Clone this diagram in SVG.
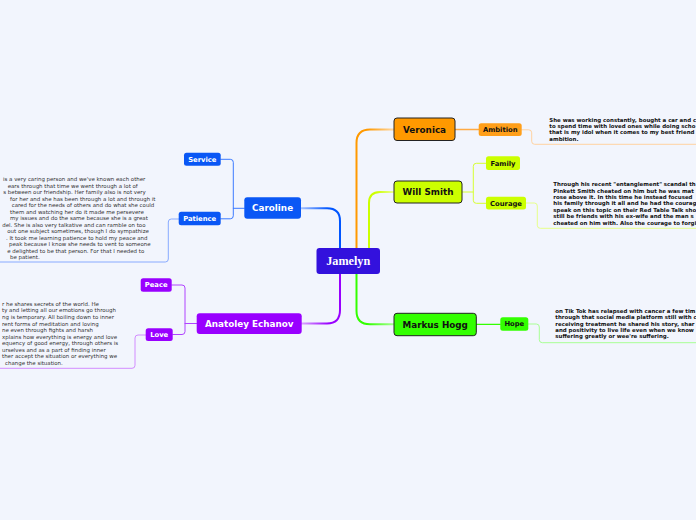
<svg xmlns="http://www.w3.org/2000/svg" width="696" height="520" viewBox="0 0 696 520">
<style>
.lbl{font-family:"DejaVu Sans",Verdana,sans-serif;font-weight:bold;text-anchor:middle}
.main{font-size:8.8px}
.sub{font-size:6.8px}
.note{font-family:"DejaVu Sans",Verdana,sans-serif;font-size:5.45px}
.nl{fill:#333}
.nr{fill:#111;font-weight:bold}
.c{fill:none;stroke-linecap:round;stroke-linejoin:round}
</style>
<defs>
<linearGradient id="gOr" x1="0" y1="0" x2="1" y2="0"><stop offset="0.3" stop-color="#ff9900"/><stop offset="1" stop-color="#ffd9a6"/></linearGradient>
<linearGradient id="gYg" x1="0" y1="0" x2="1" y2="0"><stop offset="0.3" stop-color="#ccff00"/><stop offset="1" stop-color="#ecff99"/></linearGradient>
<linearGradient id="gGr" x1="0" y1="0" x2="1" y2="0"><stop offset="0.3" stop-color="#33ff00"/><stop offset="1" stop-color="#a8ff94"/></linearGradient>
<linearGradient id="gBl" x1="1" y1="0" x2="0" y2="0"><stop offset="0.3" stop-color="#0055ff"/><stop offset="1" stop-color="#a6c2ff"/></linearGradient>
<linearGradient id="gPu" x1="1" y1="0" x2="0" y2="0"><stop offset="0.3" stop-color="#9900ff"/><stop offset="1" stop-color="#dba6ff"/></linearGradient>
</defs>
<rect width="696" height="520" fill="#f2f5fd"/>
<g id="connectors">
<path class="c" stroke="url(#gOr)" stroke-width="2" d="M356.5,248 V143 Q356.5,129.5 370,129.5 H394"/>
<path class="c" stroke="url(#gYg)" stroke-width="2" d="M369,248 V203 Q369,192 380,192 H394"/>
<path class="c" stroke="url(#gGr)" stroke-width="2" d="M356.5,274 V311 Q356.5,324.3 370,324.3 H394"/>
<path class="c" stroke="url(#gBl)" stroke-width="2" d="M340,248 V221 Q340,208.3 327,208.3 H301"/>
<path class="c" stroke="url(#gPu)" stroke-width="2" d="M340,274 V310 Q340,323.5 327,323.5 H301.7"/>
<path class="c" stroke="#ffaa44" stroke-width="1.3" d="M455,129.5 H478.7"/>
<path class="c" stroke="#ffd2a0" stroke-width="1" d="M521.7,129.8 H528.7 Q531.7,129.8 531.7,132.8 V141.3 Q531.7,144.3 534.7,144.3 H696"/>
<path class="c" stroke="#d6ff33" stroke-width="1" d="M462,192 H473.3 M486,163.3 H476.3 Q473.3,163.3 473.3,166.3 V200.3 Q473.3,203.3 476.3,203.3 H486"/>
<path class="c" stroke="#e6ff8a" stroke-width="1" d="M526,203 H534.3 Q537.3,203 537.3,206 V225.3 Q537.3,228.3 540.3,228.3 H696"/>
<path class="c" stroke="#33ff00" stroke-width="1.3" d="M476.3,324.3 H500.3"/>
<path class="c" stroke="#a8ff94" stroke-width="1" d="M528.3,324 H536.3 Q539.3,324 539.3,327 V339.7 Q539.3,342.7 542.3,342.7 H696"/>
<path class="c" stroke="#3d7bff" stroke-width="1" d="M244.3,208.3 H233.3 M220.7,159.3 H230.3 Q233.3,159.3 233.3,162.3 V215.8 Q233.3,218.8 230.3,218.8 H220.7"/>
<path class="c" stroke="#88aaff" stroke-width="1" d="M178.7,219 H171.3 Q168.3,219 168.3,222 V259 Q168.3,262 165.3,262 H0"/>
<path class="c" stroke="#b044ff" stroke-width="1" d="M196.7,323.5 H185 M171.7,285 H182 Q185,285 185,288 V331.5 Q185,334.5 182,334.5 H172.7"/>
<path class="c" stroke="#d28cff" stroke-width="1" d="M145.7,335 H138 Q135,335 135,338 V365.3 Q135,368.3 132,368.3 H0"/>
</g>
<g id="jamelyn"><rect x="316.5" y="248" width="63.5" height="26" rx="3" fill="#3311dd"/><text x="348.2" y="265.2" font-family="'Liberation Serif','Times New Roman',serif" font-weight="bold" font-size="12.2" fill="#fff" text-anchor="middle">Jamelyn</text></g>
<g id="veronica"><rect x="394" y="118" width="61" height="22.5" rx="3" fill="#ff9900" stroke="#222" stroke-width="1"/><text class="lbl main" x="424.5" y="132.5" fill="#111">Veronica</text></g>
<g id="ambition"><rect x="478.7" y="123.3" width="43" height="12.7" rx="2.5" fill="#ff9f1a"/><text class="lbl sub" x="500.2" y="132.1" fill="#111">Ambition</text></g>
<g id="will-smith"><rect x="394" y="181" width="68" height="22" rx="3" fill="#ccff00" stroke="#222" stroke-width="1"/><text class="lbl main" x="428" y="195.2" fill="#111">Will Smith</text></g>
<g id="family"><rect x="486" y="156.3" width="34" height="13.6" rx="2.5" fill="#ccff00"/><text class="lbl sub" x="503" y="165.5" fill="#111">Family</text></g>
<g id="courage"><rect x="486" y="196.7" width="40" height="12.7" rx="2.5" fill="#ccff00"/><text class="lbl sub" x="506" y="205.5" fill="#111">Courage</text></g>
<g id="markus-hogg"><rect x="394" y="313.3" width="82.3" height="22.4" rx="3" fill="#33ff00" stroke="#222" stroke-width="1"/><text class="lbl main" x="435.2" y="327.7" fill="#111">Markus Hogg</text></g>
<g id="hope"><rect x="500.3" y="317.3" width="28" height="13.4" rx="2.5" fill="#33ff00"/><text class="lbl sub" x="514.3" y="326.4" fill="#111">Hope</text></g>
<g id="caroline"><rect x="244.3" y="197.3" width="56.7" height="21.4" rx="3" fill="#0a57f5"/><text class="lbl main" x="272.6" y="211.2" fill="#fff">Caroline</text></g>
<g id="service"><rect x="184" y="152.7" width="36.7" height="13" rx="2.5" fill="#0a57f5"/><text class="lbl sub" x="202.3" y="161.6" fill="#fff">Service</text></g>
<g id="patience"><rect x="178.7" y="211.8" width="42" height="13.5" rx="2.5" fill="#0a57f5"/><text class="lbl sub" x="199.7" y="221" fill="#fff">Patience</text></g>
<g id="anatoley"><rect x="196.7" y="313.3" width="105" height="20.7" rx="3" fill="#9900ff"/><text class="lbl main" x="249.2" y="326.8" fill="#fff">Anatoley Echanov</text></g>
<g id="peace"><rect x="140.7" y="278.3" width="31" height="13.4" rx="2.5" fill="#9900ff"/><text class="lbl sub" x="156.2" y="287.4" fill="#fff">Peace</text></g>
<g id="love"><rect x="145.7" y="328.3" width="27" height="12.8" rx="2.5" fill="#9900ff"/><text class="lbl sub" x="159.2" y="337.2" fill="#fff">Love</text></g>
<g id="caroline-note" class="note nl">
<text x="3" y="181.1">is a very caring person and we've known each other</text>
<text x="7.7" y="187.6">ears through that time we went through a lot of</text>
<text x="3.3" y="194.1">s between our friendship. Her family also is not very</text>
<text x="10" y="200.6">for her and she has been through a lot and through it</text>
<text x="11.7" y="207.1">cared for the needs of others and do what she could</text>
<text x="10" y="213.6">them and watching her do it made me persevere</text>
<text x="10" y="220.1">my issues and do the same because she is a great</text>
<text x="2.3" y="226.6">del. She is also very talkative and can ramble on too</text>
<text x="7.3" y="233.1">out one subject sometimes, though I do sympathize</text>
<text x="6" y="239.6">. It took me learning patience to hold my peace and</text>
<text x="9" y="246.1">peak because I know she needs to vent to someone</text>
<text x="7.3" y="252.6">e delighted to be that person. For that I needed to</text>
<text x="10" y="259.1">be patient.</text>
</g>
<g id="anatoley-note" class="note nl">
<text x="2" y="305.9">r he shares secrets of the world. He</text>
<text x="2" y="312.45">ty and letting all our emotions go through</text>
<text x="2" y="319">ng is temporary. All boiling down to inner</text>
<text x="2" y="325.55">rent forms of meditation and loving</text>
<text x="2" y="332.1">ne even through fights and harsh</text>
<text x="2" y="338.65">xplains how everything is energy and love</text>
<text x="2" y="345.2">equency of good energy, through others is</text>
<text x="2" y="351.75">urselves and as a part of finding inner</text>
<text x="2" y="358.3">ther accept the situation or everything we</text>
<text x="5" y="364.85">change the situation.</text>
</g>
<g id="veronica-note" class="note nr">
<text x="549.3" y="121.6">She was working constantly, bought a car and c</text>
<text x="549.3" y="128">to spend time with loved ones while doing scho</text>
<text x="549.3" y="134.4">that is my idol when it comes to my best friend</text>
<text x="549.3" y="140.8">ambition.</text>
</g>
<g id="will-note" class="note nr">
<text x="553.3" y="186.1">Through his recent "entanglement" scandal th</text>
<text x="553.3" y="192.5">Pinkett Smith cheated on him but he was mat</text>
<text x="553.3" y="198.9">rose above it. In this time he instead focused</text>
<text x="553.3" y="205.3">his family through it all and he had the courag</text>
<text x="553.3" y="211.7">speak on this topic on their Red Table Talk sho</text>
<text x="553.3" y="218.1">still be friends with his ex-wife and the man s</text>
<text x="553.3" y="224.5">cheated on him with. Also the courage to forgi</text>
</g>
<g id="markus-note" class="note nr">
<text x="555.3" y="312.8">on Tik Tok has relapsed with cancer a few tim</text>
<text x="555.3" y="319.2">through that social media platform still with c</text>
<text x="555.3" y="325.6">receiving treatment he shared his story, shar</text>
<text x="555.3" y="332">and positivity to live life even when we know</text>
<text x="555.3" y="338.4">suffering greatly or wee're suffering.</text>
</g>
</svg>
